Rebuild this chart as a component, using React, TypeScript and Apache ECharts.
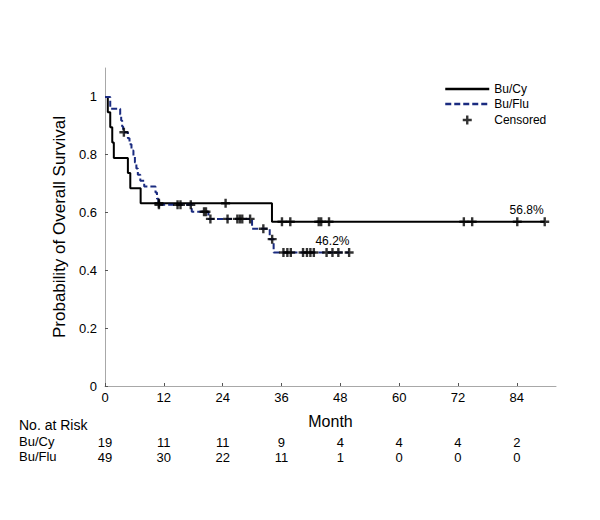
import React, { useEffect, useRef } from "react";
import * as echarts from "echarts";

// ---- data ----
const xTicks = [0, 12, 24, 36, 48, 60, 72, 84];
const riskBuCy = [19, 11, 11, 9, 4, 4, 4, 2];
const riskBuFlu = [49, 30, 22, 11, 1, 0, 0, 0];

// Kaplan-Meier step points: month / survival after the event
const buCyTimes = [0, 0.57, 1.07, 1.48, 1.8, 4.67, 5.16, 7.27, 34.06, 89.7];
const buCySurv = [1, 0.947, 0.895, 0.842, 0.789, 0.737, 0.684, 0.632, 0.568, 0.568];
const buCyCensored = [11.0, 24.6, 36.1, 37.8, 43.6, 44.1, 45.7, 73.2, 74.9, 84.1, 89.7];

const buFluTimes = [0, 1.07, 3.1, 3.3, 3.5, 3.7, 4.67, 5.0, 5.4, 5.8, 6.1, 6.4, 6.7, 7.2, 8.0, 10.3, 10.6, 10.9, 17.7, 21.1, 30.0, 33.6, 34.4, 49.8];
const buFluSurv = [1, 0.959, 0.939, 0.918, 0.898, 0.878, 0.857, 0.836, 0.815, 0.794, 0.773, 0.752, 0.731, 0.71, 0.69, 0.669, 0.648, 0.627, 0.603, 0.578, 0.544, 0.508, 0.462, 0.462];
const buFluCensored = [3.85, 11.0, 14.8, 15.4, 17.5, 20.2, 20.6, 21.5, 25.0, 27.0, 27.5, 28.0, 29.6, 32.3, 34.1, 36.4, 37.2, 37.9, 40.4, 41.2, 41.9, 42.6, 45.2, 46.4, 47.6, 49.8];

const buCyFinal = { month: 86, value: 0.568, text: "56.8%" };
const buFluFinal = { month: 46.4, value: 0.462, text: "46.2%" };

const FONT = "Liberation Sans, Arial, Helvetica, sans-serif";
const BLUE = "#1a2b80";
const PLUS = "path://M0,0M14,14M5.8,2.5H8.2V5.8H11.5V8.2H8.2V11.5H5.8V8.2H2.5V5.8H5.8Z";

function survAt(times: number[], surv: number[], t: number) {
  let v = surv[0];
  for (let i = 0; i < times.length; i++) {
    if (times[i] <= t) v = surv[i];
  }
  return v;
}

export default function App() {
  const ref = useRef<HTMLDivElement>(null);
  useEffect(() => {
    if (!ref.current) return;
    const chart = echarts.init(ref.current, undefined, { renderer: "svg" });

    const riskAxis = (arr: number[], offset: number) => ({
      type: "value",
      min: 0,
      max: 92,
      interval: 12,
      position: "bottom",
      offset,
      axisLine: { show: false },
      axisTick: { show: false },
      splitLine: { show: false },
      axisLabel: {
        margin: 8,
        fontSize: 13,
        fontFamily: FONT,
        color: "#000",
        showMaxLabel: false,
        formatter: (v: number) => {
          const i = xTicks.indexOf(v);
          return i >= 0 ? String(arr[i]) : "";
        },
      },
    });

    chart.setOption({
      animation: false,
      backgroundColor: "#fff",
      grid: { left: 105, right: 44, top: 68, bottom: 134 },
      legend: {
        orient: "vertical",
        left: 439,
        top: 78,
        itemWidth: 44,
        itemHeight: 14,
        itemGap: 3,
        textStyle: { fontSize: 12, fontFamily: FONT, color: "#000" },
        data: [
          { name: "Bu/Cy", itemStyle: { opacity: 0 }, lineStyle: { width: 2.5 } },
          { name: "Bu/Flu", itemStyle: { opacity: 0 }, lineStyle: { width: 2.5 } },
          { name: "Censored" },
        ],
      },
      xAxis: [
        {
          type: "value",
          min: 0,
          max: 92,
          interval: 12,
          name: "Month",
          nameLocation: "middle",
          nameGap: 27,
          nameTextStyle: { fontSize: 16, fontFamily: FONT, color: "#000" },
          axisLine: { show: true, lineStyle: { color: "#a8a8a8", width: 1 } },
          axisTick: { show: true, inside: true, length: 3, lineStyle: { color: "#555" } },
          splitLine: { show: false },
          axisLabel: {
            margin: 5,
            fontSize: 13,
            fontFamily: FONT,
            color: "#000",
            showMaxLabel: false,
            formatter: (v: number) => (xTicks.indexOf(v) >= 0 ? String(v) : ""),
          },
        },
        riskAxis(riskBuCy, 42),
        riskAxis(riskBuFlu, 57),
      ],
      yAxis: {
        type: "value",
        min: 0,
        max: 1.1,
        interval: 0.2,
        name: "Probability of Overall Survival",
        nameLocation: "middle",
        nameGap: 32,
        nameTextStyle: { fontSize: 17, fontFamily: FONT, color: "#000" },
        axisLine: { show: true, lineStyle: { color: "#a8a8a8", width: 1 } },
        axisTick: { show: true, inside: true, length: 3, lineStyle: { color: "#555" } },
        splitLine: { show: false },
        axisLabel: {
          margin: 8,
          fontSize: 13,
          fontFamily: FONT,
          color: "#000",
          showMaxLabel: false,
          formatter: (v: number) => (v > 1.05 ? "" : String(+v.toFixed(1))),
        },
      },
      series: [
        {
          name: "Bu/Cy",
          type: "line",
          step: "end",
          symbol: "none",
          xAxisIndex: 0,
          lineStyle: { color: "#000", width: 2 },
          itemStyle: { color: "#000" },
          data: buCyTimes.map((t, i) => [t, buCySurv[i]]),
          markPoint: {
            symbol: "circle",
            symbolSize: 1,
            itemStyle: { color: "rgba(0,0,0,0)" },
            label: {
              show: true,
              position: "top",
              distance: 5,
              fontSize: 12,
              fontFamily: FONT,
              color: "#000",
              formatter: buCyFinal.text,
            },
            data: [{ coord: [buCyFinal.month, buCyFinal.value] }],
          },
          z: 2,
        },
        {
          name: "Bu/Flu",
          type: "line",
          step: "end",
          symbol: "none",
          xAxisIndex: 0,
          lineStyle: { color: BLUE, width: 2, type: [6, 3] },
          itemStyle: { color: BLUE },
          data: buFluTimes.map((t, i) => [t, buFluSurv[i]]),
          markPoint: {
            symbol: "circle",
            symbolSize: 1,
            itemStyle: { color: "rgba(0,0,0,0)" },
            label: {
              show: true,
              position: "top",
              distance: 5,
              fontSize: 12,
              fontFamily: FONT,
              color: "#000",
              formatter: buFluFinal.text,
            },
            data: [{ coord: [buFluFinal.month, buFluFinal.value] }],
          },
          z: 2,
        },
        {
          name: "Censored",
          type: "scatter",
          xAxisIndex: 0,
          symbol: PLUS,
          symbolSize: 14,
          itemStyle: { color: "#000" },
          data: buCyCensored.map((t) => [t, survAt(buCyTimes, buCySurv, t)]),
          z: 3,
        },
        {
          name: "Censored",
          type: "scatter",
          xAxisIndex: 0,
          symbol: PLUS,
          symbolSize: 14,
          itemStyle: { color: "#000" },
          data: buFluCensored.map((t) => [t, survAt(buFluTimes, buFluSurv, t)]),
          z: 3,
        },
      ],
      graphic: [
        { type: "text", left: 19, top: 418, style: { text: "No. at Risk", fontSize: 14, fontFamily: FONT, fill: "#000" } },
        { type: "text", left: 19, top: 435, style: { text: "Bu/Cy", fontSize: 13, fontFamily: FONT, fill: "#000" } },
        { type: "text", left: 19, top: 450, style: { text: "Bu/Flu", fontSize: 13, fontFamily: FONT, fill: "#000" } },
      ],
    });
    return () => chart.dispose();
  }, []);
  return (
    <div
      ref={ref}
      style={{ position: "absolute", left: 0, top: 0, width: 600, height: 520 }}
    />
  );
}
